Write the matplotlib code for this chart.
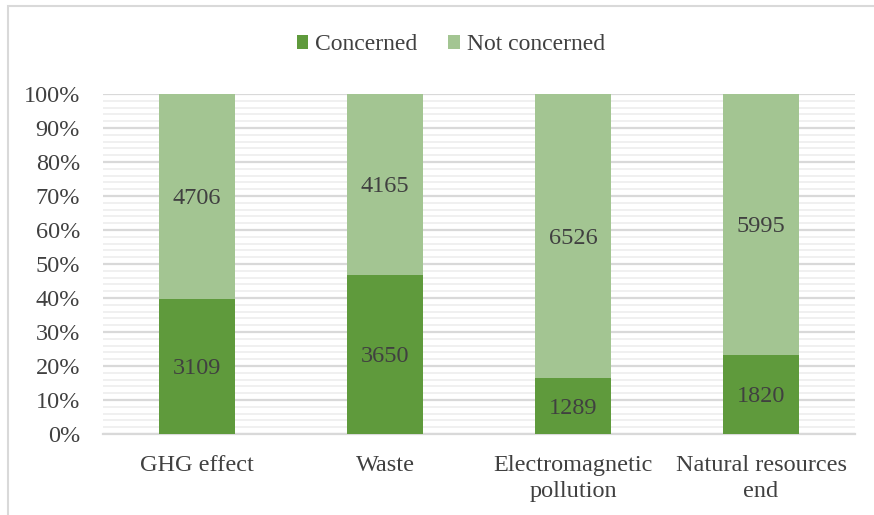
import matplotlib
matplotlib.use("Agg")
import matplotlib.pyplot as plt
from matplotlib.patches import Rectangle
from matplotlib.ticker import MultipleLocator, FuncFormatter
import numpy as np

categories = ["GHG effect", "Waste", "Electromagnetic\npollution", "Natural resources\nend"]
concerned = [3109, 3650, 1289, 1820]
not_concerned = [4706, 4165, 6526, 5995]
series_names = ["Concerned", "Not concerned"]

COL_CONC = "#5F9A3C"
COL_NOT = "#A3C592"
TEXT = "#404040"
FS = 17.5

plt.rcParams["font.family"] = ["Liberation Serif", "DejaVu Serif"]

W, H = 874, 515
fig = plt.figure(figsize=(W / 100, H / 100), dpi=100)
ax = fig.add_axes([103 / W, 1 - 434 / H, (855 - 103) / W, (434 - 94) / H])

conc = np.array(concerned, dtype=float)
notc = np.array(not_concerned, dtype=float)
total = conc + notc
p_conc = conc / total * 100
p_not = notc / total * 100

x = np.arange(len(categories))
width = 0.4
b1 = ax.bar(x, p_conc, width, color=COL_CONC, label=series_names[0], zorder=3)
b2 = ax.bar(x, p_not, width, bottom=p_conc, color=COL_NOT, label=series_names[1], zorder=3)

for i in range(len(x)):
    ax.annotate(f"{concerned[i]}", (x[i], p_conc[i] / 2), xytext=(0, -1.5),
                textcoords="offset points", ha="center", va="center",
                fontsize=FS, color=TEXT, zorder=4)
    ax.annotate(f"{not_concerned[i]}", (x[i], p_conc[i] + p_not[i] / 2), xytext=(0, -1.5),
                textcoords="offset points", ha="center", va="center",
                fontsize=FS, color=TEXT, zorder=4)

ax.set_xlim(-0.5, len(categories) - 0.5)
ax.set_ylim(0, 100)
ax.yaxis.set_major_locator(MultipleLocator(10))
ax.yaxis.set_minor_locator(MultipleLocator(2))
ax.yaxis.set_major_formatter(FuncFormatter(lambda v, _: f"{v:.0f}%"))
ax.grid(axis="y", which="major", color="#D9D9D9", linewidth=1.6, zorder=1)
ax.grid(axis="y", which="minor", color="#F0F0F0", linewidth=1.4, zorder=0)
ax.grid(axis="x", visible=False)
for s in ["top", "right", "left"]:
    ax.spines[s].set_visible(False)
ax.spines["bottom"].set_color("#D9D9D9")
ax.spines["bottom"].set_linewidth(1.6)
ax.tick_params(axis="both", which="both", length=0, labelsize=FS, labelcolor=TEXT)
ax.tick_params(axis="y", pad=16.5)
ax.tick_params(axis="x", pad=15)
ax.set_xticks(x)
ax.set_xticklabels(categories, linespacing=1.35)

fig.legend(handles=[b1, b2], loc="center", bbox_to_anchor=(451 / W, 1 - 45 / H),
           ncol=2, frameon=False, fontsize=17, labelcolor=TEXT,
           handlelength=0.5, handleheight=0.5, handletextpad=0.3, columnspacing=1.3)

# outer chart frame
fig.patches.append(Rectangle((8 / W, -0.05), 2, 1 - 6 / H + 0.05, transform=fig.transFigure,
                             fill=False, edgecolor="#D9D9D9", linewidth=1.5))

fig.savefig("out.png", dpi=100)
